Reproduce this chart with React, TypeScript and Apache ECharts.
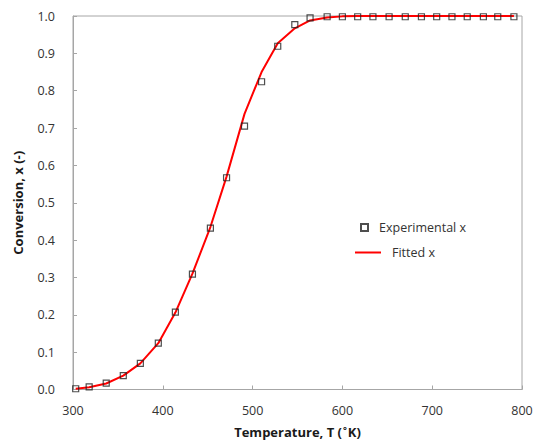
import React, { useEffect, useRef } from "react";
import * as echarts from "echarts";

const temperatures = [303, 318, 337, 356, 375, 395, 414, 433, 453, 471, 491, 510, 528, 547, 564, 583, 600, 617, 634, 652, 670, 688, 705, 722, 739, 757, 773, 791];
const experimentalX = [0.002, 0.007, 0.017, 0.037, 0.07, 0.124, 0.207, 0.309, 0.432, 0.567, 0.705, 0.824, 0.919, 0.977, 0.995, 0.998, 0.998, 0.998, 0.998, 0.998, 0.998, 0.998, 0.998, 0.998, 0.998, 0.998, 0.998, 0.998];
const fittedX = [0.002, 0.006, 0.016, 0.037, 0.07, 0.124, 0.206, 0.31, 0.435, 0.57, 0.738, 0.85, 0.927, 0.967, 0.988, 0.996, 0.999, 1.0, 1.0, 1.0, 1.0, 1.0, 1.0, 1.0, 1.0, 1.0, 1.0, 1.0];
const xTicks = { min: 300, max: 800, interval: 100 };
const yTicks = { min: 0, max: 1, interval: 0.1 };

const FONT = "Open Sans";
const AXIS_COLOR = "#a6a6a6";
const TEXT_COLOR = "#333333";

export default function App() {
  const ref = useRef<HTMLDivElement>(null);
  useEffect(() => {
    if (!ref.current) return;
    const chart = echarts.init(ref.current, undefined, { renderer: "svg" });
    chart.setOption({
      animation: false,
      backgroundColor: "#ffffff",
      textStyle: { fontFamily: FONT },
      grid: { left: 73, right: 14, top: 16, bottom: 56.5, show: true, borderColor: AXIS_COLOR, borderWidth: 1 },
      legend: [
        {
          data: [{ name: "Experimental x" }],
          orient: "vertical",
          left: 355,
          top: 216,
          itemWidth: 7,
          itemHeight: 7,
          textStyle: { fontFamily: FONT, fontSize: 12.5, color: TEXT_COLOR, padding: [0, 0, 0, 6] },
        },
        {
          data: [{ name: "Fitted x", icon: "rect", itemStyle: { color: "#ff0000", borderWidth: 0 } }],
          orient: "vertical",
          left: 350,
          top: 241,
          itemWidth: 26,
          itemHeight: 2,
          textStyle: { fontFamily: FONT, fontSize: 12.5, color: TEXT_COLOR, padding: [0, 0, 0, 6] },
        },
      ],
      xAxis: {
        type: "value",
        min: xTicks.min,
        max: xTicks.max,
        interval: xTicks.interval,
        name: "Temperature, T ({s|°}K)",
        nameLocation: "middle",
        nameGap: 35,
        nameTextStyle: {
          fontFamily: FONT,
          fontSize: 13,
          fontWeight: "bold",
          color: "#1a1a1a",
          rich: { s: { fontFamily: FONT, fontSize: 9, fontWeight: "bold", color: "#1a1a1a", verticalAlign: "top", padding: [0, 1, 6, 1] } },
        },
        axisLine: { show: true, lineStyle: { color: AXIS_COLOR, width: 1 } },
        axisTick: { show: true, inside: true, length: 4, lineStyle: { color: AXIS_COLOR } },
        axisLabel: { fontFamily: FONT, fontSize: 12.5, color: TEXT_COLOR, margin: 14 },
        splitLine: { show: false },
      },
      yAxis: {
        type: "value",
        min: yTicks.min,
        max: yTicks.max,
        interval: yTicks.interval,
        name: "Conversion, x (-)",
        nameLocation: "middle",
        nameGap: 49,
        nameTextStyle: { fontFamily: FONT, fontSize: 13, fontWeight: "bold", color: "#1a1a1a" },
        axisLine: { show: true, lineStyle: { color: AXIS_COLOR, width: 1 } },
        axisTick: { show: true, inside: true, length: 4, lineStyle: { color: AXIS_COLOR } },
        axisLabel: { fontFamily: FONT, fontSize: 12.5, color: TEXT_COLOR, margin: 18, formatter: (v: number) => v.toFixed(1) },
        splitLine: { show: false },
      },
      series: [
        {
          name: "Experimental x",
          type: "scatter",
          symbol: "rect",
          symbolSize: 6,
          z: 5,
          itemStyle: { color: "rgba(255,255,255,0)", borderColor: "#222222", borderWidth: 1.2 },
          data: temperatures.map((t, i) => [t, experimentalX[i]]),
        },
        {
          name: "Fitted x",
          type: "line",
          symbol: "none",
          smooth: false,
          z: 3,
          lineStyle: { color: "#ff0000", width: 2 },
          itemStyle: { color: "#ff0000" },
          data: temperatures.map((t, i) => [t, fittedX[i]]),
        },
      ],
    });
    return () => chart.dispose();
  }, []);
  return <div ref={ref} style={{ width: 536, height: 446, position: "absolute", left: 0, top: 0 }} />;
}
